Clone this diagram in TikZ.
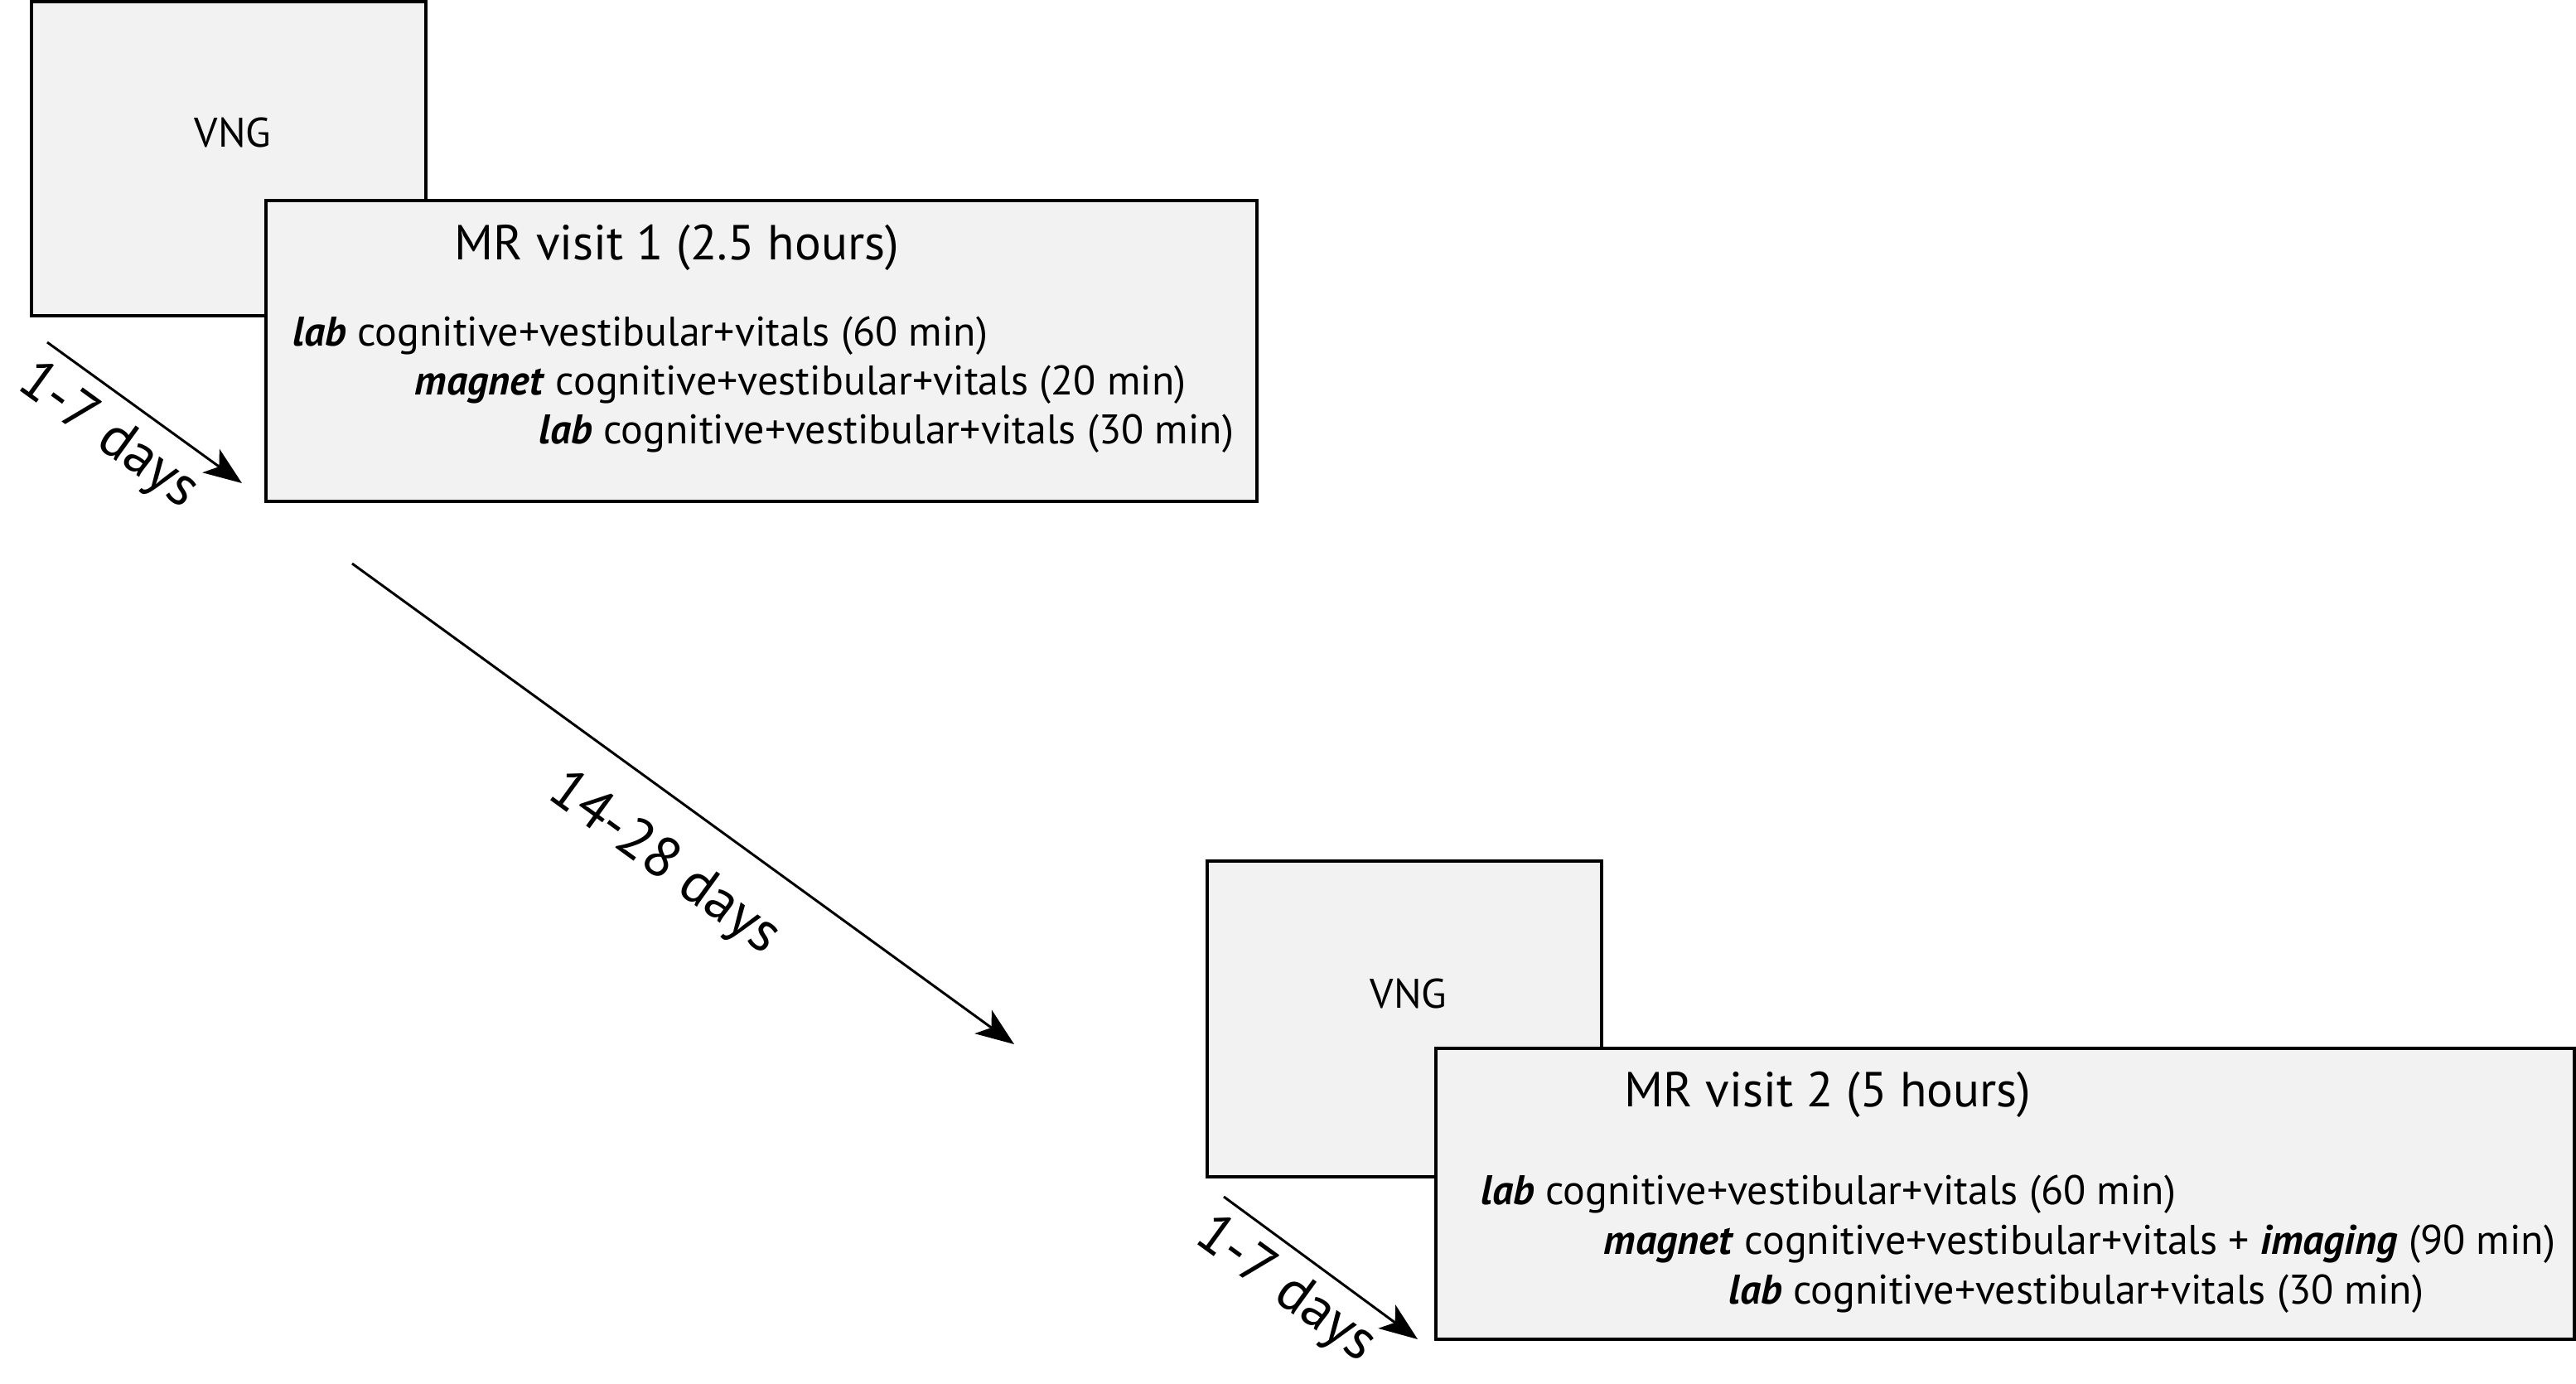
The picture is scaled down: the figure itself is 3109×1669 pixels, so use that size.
\documentclass[tikz,border=0pt]{standalone}
\usepackage{fontspec}
\setmainfont{PT Sans}
\usetikzlibrary{arrows.meta}
\definecolor{boxgray}{HTML}{F2F2F2}
\newcommand{\kw}[1]{\textbf{\textit{#1}}}
\begin{document}
\begin{tikzpicture}[x=0.01cm,y=-0.01cm,
  box/.style={draw=black, line width=1.15pt, fill=boxgray, inner sep=0pt},
  conn/.style={line width=0.85pt, -{Stealth[length=4.6mm,width=3.5mm,inset=1.2mm]}},
  body/.style={font=\fontsize{14.2}{17}\selectfont, inner sep=0pt, anchor=base west},
  title/.style={font=\fontsize{16.9}{20}\selectfont, inner sep=0pt, anchor=base},
  vng/.style={font=\fontsize{14.2}{17}\selectfont, inner sep=0pt, anchor=base},
  daylabel/.style={font=\fontsize{19.6}{23}\selectfont, inner sep=0pt}
]
\useasboundingbox (0,0) rectangle (3109,1669);

% visit 1
\node[box, minimum width=4.76cm, minimum height=3.79cm] (vng1) at (276,191.5) {};
\node[vng] (vngt1) at (281,177) {VNG};
\node[box, minimum width=11.96cm, minimum height=3.63cm] (mr1) at (919,423.5) {};
\node[title] (t1) at (817,313) {MR visit 1 (2.5 hours)};
\node[body] (l11) at (353,417) {\kw{lab} cognitive+vestibular+vitals (60 min)};
\node[body] (l12) at (500,476) {\kw{magnet} cognitive+vestibular+vitals (20 min)};
\node[body] (l13) at (650,535) {\kw{lab} cognitive+vestibular+vitals (30 min)};

% visit 2
\node[box, minimum width=4.76cm, minimum height=3.81cm] (vng2) at (1695,1229.5) {};
\node[vng] (vngt2) at (1700,1216) {VNG};
\node[box, minimum width=13.74cm, minimum height=3.51cm] (mr2) at (2420,1440.5) {};
\node[title] (t2) at (2206,1335) {MR visit 2 (5 hours)};
\node[body] (l21) at (1787,1453) {\kw{lab} cognitive+vestibular+vitals (60 min)};
\node[body] (l22) at (1935,1513) {\kw{magnet} cognitive+vestibular+vitals + \kw{imaging} (90 min)};
\node[body] (l23) at (2086,1573) {\kw{lab} cognitive+vestibular+vitals (30 min)};

% arrows
\coordinate (a1s) at (57,413);
\coordinate (a1e) at (292,583);
\coordinate (a2s) at (425,680);
\coordinate (a2e) at (1224,1260);
\coordinate (a3s) at (1477,1444);
\coordinate (a3e) at (1711,1616);
\draw[conn] (a1s) -- (a1e);
\draw[conn] (a2s) -- (a2e);
\draw[conn] (a3s) -- (a3e);
\node[daylabel, rotate=-36] (d1) at (130,527) {1-7 days};
\node[daylabel, rotate=-36] (d2) at (801,1043) {14-28 days};
\node[daylabel, rotate=-36] (d3) at (1551,1557) {1-7 days};
\end{tikzpicture}
\end{document}
